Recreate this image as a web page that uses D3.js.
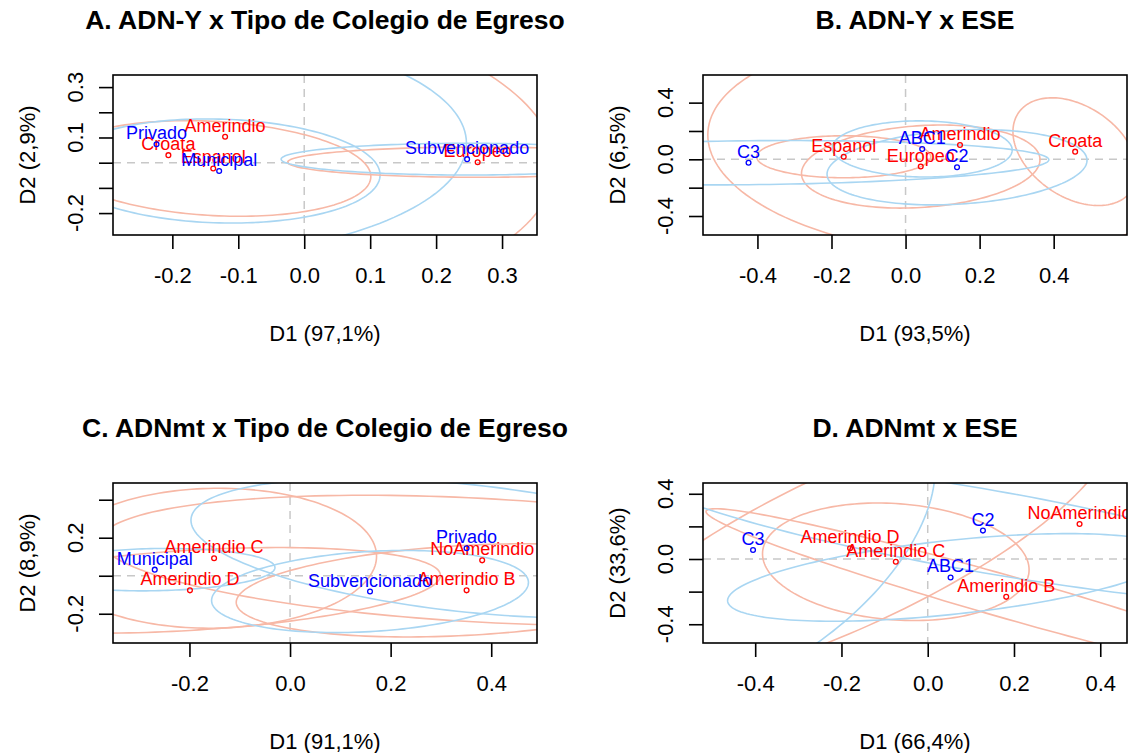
<!DOCTYPE html>
<html>
<head>
<meta charset="utf-8">
<script src="https://cdn.jsdelivr.net/npm/d3@7"></script>
<style>
  body { margin: 0; background: #ffffff; }
  text { font-family: "Liberation Sans", Arial, sans-serif; }
</style>
</head>
<body>
<svg id="chart" width="1128" height="753"></svg>
<script>
// ---------- Panel A: ADN-Y x Tipo de Colegio de Egreso ----------
const rowLabelsA = ["Amerindio", "Croata", "Espanol", "Europeo"];
const rowD1A = [-0.120, -0.206, -0.138, 0.263];
const rowD2A = [0.103, 0.030, -0.023, 0.002];
const colLabelsA = ["Privado", "Municipal", "Subvencionado"];
const colD1A = [-0.224, -0.129, 0.247];
const colD2A = [0.073, -0.033, 0.014];
// confidence ellipses: [category, semi-axis x, semi-axis y-shift, vertical half-chord]
const ellipsesA = [
  ["Croata", 0.586, -0.040, 0.631],
  ["Privado", 0.470, 0.004, 0.456],
  ["Espanol", 0.239, -0.032, 0.187],
  ["Municipal", 0.244, -0.016, 0.206],
  ["Europeo", 0.288, 0.000, 0.060],
  ["Subvencionado", 0.282, 0.000, 0.063]
];
const xDomainA = [-0.290, 0.353];
const yDomainA = [-0.287, 0.348];
const xTicksA = [-0.2, -0.1, 0.0, 0.1, 0.2, 0.3];
const yTicksA = [-0.2, -0.1, 0.0, 0.1, 0.2, 0.3];
const yTickLabelsA = [-0.2, 0.1, 0.3];

// ---------- Panel B: ADN-Y x ESE ----------
const rowLabelsB = ["Espanol", "Amerindio", "Europeo", "Croata"];
const rowD1B = [-0.167, 0.147, 0.041, 0.458];
const rowD2B = [0.018, 0.101, -0.051, 0.054];
const colLabelsB = ["C3", "ABC1", "C2"];
const colD1B = [-0.424, 0.045, 0.139];
const colD2B = [-0.024, 0.073, -0.056];
const ellipsesB = [
  ["Amerindio", 0.681, -0.071, 0.776],
  ["Croata", 0.168, -0.141, 0.353],
  ["Europeo", 0.322, 0.049, 0.289],
  ["Espanol", 0.235, 0.000, 0.148],
  ["C3", 0.811, 0.021, 0.155],
  ["ABC1", 0.243, -0.007, 0.198],
  ["C2", 0.351, 0.049, 0.261]
];
const xDomainB = [-0.547, 0.598];
const yDomainB = [-0.534, 0.595];
const xTicksB = [-0.4, -0.2, 0.0, 0.2, 0.4];
const yTicksB = [-0.4, -0.2, 0.0, 0.2, 0.4];
const yTickLabelsB = [-0.4, 0.0, 0.4];

// ---------- Panel C: ADNmt x Tipo de Colegio de Egreso ----------
const rowLabelsC = ["Amerindio C", "Amerindio D", "NoAmerindio", "Amerindio B"];
const rowD1C = [-0.151, -0.199, 0.382, 0.351];
const rowD2C = [0.092, -0.077, 0.081, -0.077];
const colLabelsC = ["Municipal", "Subvencionado", "Privado"];
const colD1C = [-0.269, 0.159, 0.351];
const colD2C = [0.032, -0.083, 0.145];
const ellipsesC = [
  ["NoAmerindio", 0.757, -0.105, 0.326],
  ["Amerindio C", 0.323, 0.011, 0.368],
  ["Amerindio D", 0.498, 0.079, 0.211],
  ["Amerindio B", 0.458, 0.063, 0.237],
  ["Privado", 0.548, -0.147, 0.337],
  ["Subvencionado", 0.315, 0.047, 0.211],
  ["Municipal", 0.239, 0.011, 0.111]
];
const xDomainC = [-0.352, 0.491];
const yDomainC = [-0.354, 0.488];
const xTicksC = [-0.2, 0.0, 0.2, 0.4];
const yTicksC = [-0.2, 0.0, 0.2, 0.4];
const yTickLabelsC = [-0.2, 0.2];

// ---------- Panel D: ADNmt x ESE ----------
const rowLabelsD = ["Amerindio D", "Amerindio C", "NoAmerindio", "Amerindio B"];
const rowD1D = [-0.180, -0.074, 0.352, 0.182];
const rowD2D = [0.066, -0.017, 0.215, -0.232];
const colLabelsD = ["C3", "C2", "ABC1"];
const colD1D = [-0.405, 0.128, 0.053];
const colD2D = [0.055, 0.174, -0.113];
const ellipsesD = [
  ["Amerindio C", 0.309, -0.049, 0.357],
  ["Amerindio D", 0.603, 0.677, 0.523],
  ["Amerindio B", 0.696, -0.523, 0.135],
  ["ABC1", 0.517, 0.142, 0.228],
  ["C3", 0.422, 0.492, 0.794],
  ["C2", 0.812, -0.369, 0.258]
];
const xDomainD = [-0.521, 0.462];
const yDomainD = [-0.515, 0.466];
const xTicksD = [-0.4, -0.2, 0.0, 0.2, 0.4];
const yTicksD = [-0.4, -0.2, 0.0, 0.2, 0.4];
const yTickLabelsD = [-0.4, 0.0, 0.4];

const titles = ["A. ADN-Y x Tipo de Colegio de Egreso", "B. ADN-Y x ESE",
                "C. ADNmt x Tipo de Colegio de Egreso", "D. ADNmt x ESE"];
const xTitles = ["D1 (97,1%)", "D1 (93,5%)", "D1 (91,1%)", "D1 (66,4%)"];
const yTitles = ["D2 (2,9%)", "D2 (6,5%)", "D2 (8,9%)", "D2 (33,6%)"];

// ---------- styling & layout ----------
const ROW_COL = "#ff0000", COL_COL = "#0000ff";
const ROW_ELL = "#f7b8a6", COL_ELL = "#a9d6f2";
const boxes = [
  { left: 113, right: 537, top: 75, bottom: 235 },
  { left: 703, right: 1127, top: 75, bottom: 235 },
  { left: 113, right: 537, top: 483, bottom: 643 },
  { left: 703, right: 1127, top: 483, bottom: 643 }
];

function table(labels, d1, d2, kind) {
  return labels.map((l, i) => ({ label: l, x: d1[i], y: d2[i], kind }));
}

const panels = [
  { rows: table(rowLabelsA, rowD1A, rowD2A, "row"), cols: table(colLabelsA, colD1A, colD2A, "col"),
    ell: ellipsesA, xd: xDomainA, yd: yDomainA, xt: xTicksA, yt: yTicksA, ytl: yTickLabelsA },
  { rows: table(rowLabelsB, rowD1B, rowD2B, "row"), cols: table(colLabelsB, colD1B, colD2B, "col"),
    ell: ellipsesB, xd: xDomainB, yd: yDomainB, xt: xTicksB, yt: yTicksB, ytl: yTickLabelsB },
  { rows: table(rowLabelsC, rowD1C, rowD2C, "row"), cols: table(colLabelsC, colD1C, colD2C, "col"),
    ell: ellipsesC, xd: xDomainC, yd: yDomainC, xt: xTicksC, yt: yTicksC, ytl: yTickLabelsC },
  { rows: table(rowLabelsD, rowD1D, rowD2D, "row"), cols: table(colLabelsD, colD1D, colD2D, "col"),
    ell: ellipsesD, xd: xDomainD, yd: yDomainD, xt: xTicksD, yt: yTicksD, ytl: yTickLabelsD }
];

const svg = d3.select("#chart");
// one decimal, plain hyphen for negatives
const fmt = v => v.toFixed(1);

panels.forEach((p, i) => {
  const b = boxes[i];
  const x = d3.scaleLinear().domain(p.xd).range([b.left, b.right]);
  const y = d3.scaleLinear().domain(p.yd).range([b.bottom, b.top]);
  const g = svg.append("g");

  const clipId = "clip" + i;
  svg.append("clipPath").attr("id", clipId)
    .append("rect").attr("x", b.left).attr("y", b.top)
    .attr("width", b.right - b.left).attr("height", b.bottom - b.top);

  const plot = g.append("g").attr("clip-path", `url(#${clipId})`);

  // reference lines through the origin
  plot.append("line").attr("x1", b.left).attr("x2", b.right)
    .attr("y1", y(0)).attr("y2", y(0))
    .attr("stroke", "#c8c8c8").attr("stroke-width", 1.5).attr("stroke-dasharray", "8,6");
  plot.append("line").attr("y1", b.top).attr("y2", b.bottom)
    .attr("x1", x(0)).attr("x2", x(0))
    .attr("stroke", "#c8c8c8").attr("stroke-width", 1.5).attr("stroke-dasharray", "8,6");

  // confidence ellipses
  const all = p.rows.concat(p.cols);
  const byName = new Map(all.map(d => [d.label, d]));
  const ts = d3.range(0, 361, 2).map(a => a * Math.PI / 180);
  const line = d3.line().x(d => x(d[0])).y(d => y(d[1])).curve(d3.curveLinearClosed);
  p.ell.forEach(([name, ax, ay, by]) => {
    const c = byName.get(name);
    const pts = ts.map(t => [c.x + ax * Math.cos(t), c.y + ay * Math.cos(t) + by * Math.sin(t)]);
    plot.append("path").attr("d", line(pts)).attr("fill", "none")
      .attr("stroke", c.kind === "row" ? ROW_ELL : COL_ELL).attr("stroke-width", 1.6);
  });

  // category points and labels
  all.forEach(d => {
    const col = d.kind === "row" ? ROW_COL : COL_COL;
    plot.append("circle").attr("cx", x(d.x)).attr("cy", y(d.y)).attr("r", 2.4)
      .attr("fill", "none").attr("stroke", col).attr("stroke-width", 1.3);
    plot.append("text").attr("x", x(d.x)).attr("y", y(d.y) - 5)
      .attr("text-anchor", "middle").attr("font-size", 18).attr("fill", col).text(d.label);
  });

  // frame
  g.append("rect").attr("x", b.left).attr("y", b.top)
    .attr("width", b.right - b.left).attr("height", b.bottom - b.top)
    .attr("fill", "none").attr("stroke", "#000").attr("stroke-width", 1.6);

  // x axis
  const xa = g.append("g").attr("transform", `translate(0,${b.bottom})`)
    .call(d3.axisBottom(x).tickValues(p.xt).tickSize(14).tickFormat(fmt));
  xa.select(".domain").remove();
  xa.selectAll("line").attr("stroke", "#000").attr("stroke-width", 1.6);
  xa.selectAll("text").attr("font-size", 22).attr("fill", "#000")
    .attr("font-family", "Liberation Sans, Arial, sans-serif").attr("y", 41).attr("dy", "0.32em");

  // y axis: ticks everywhere, labels on a subset, written along the axis
  const ya = g.append("g").attr("transform", `translate(${b.left},0)`)
    .call(d3.axisLeft(y).tickValues(p.yt).tickSize(14).tickFormat(""));
  ya.select(".domain").remove();
  ya.selectAll("line").attr("stroke", "#000").attr("stroke-width", 1.6);
  g.selectAll(null).data(p.ytl).join("text")
    .attr("transform", v => `translate(${b.left - 30},${y(v)}) rotate(-90)`)
    .attr("text-anchor", "middle").attr("font-size", 22).attr("fill", "#000")
    .text(v => fmt(v));

  // titles
  g.append("text").attr("x", (b.left + b.right) / 2).attr("y", b.top - 46)
    .attr("text-anchor", "middle").attr("font-size", 26.5).attr("font-weight", "bold")
    .text(titles[i]);
  g.append("text").attr("x", (b.left + b.right) / 2).attr("y", b.bottom + 106)
    .attr("text-anchor", "middle").attr("font-size", 22).text(xTitles[i]);
  g.append("text")
    .attr("transform", `translate(${b.left - 78},${(b.top + b.bottom) / 2}) rotate(-90)`)
    .attr("text-anchor", "middle").attr("font-size", 22).text(yTitles[i]);
});
</script>
</body>
</html>
